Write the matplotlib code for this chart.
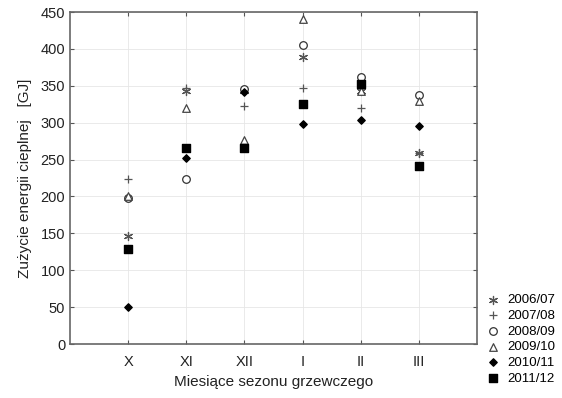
import matplotlib
matplotlib.use('Agg')
import matplotlib.pyplot as plt

plt.rcParams['font.family'] = ['Liberation Sans', 'DejaVu Sans']

months = ['X', 'XI', 'XII', 'I', 'II', 'III']
seasons = ['2006/07', '2007/08', '2008/09', '2009/10', '2010/11', '2011/12']

s0607 = [146, 343, 343, 389, 343, 259]
s0708 = [224, 347, 322, 347, 320, 259]
s0809 = [198, 224, 346, 405, 362, 338]
s0910 = [200, 320, 276, 440, 343, 330]
s1011 = [50, 252, 341, 298, 303, 295]
s1112 = [129, 265, 265, 325, 353, 241]

series = [s0607, s0708, s0809, s0910, s1011, s1112]
styles = [
    dict(marker=(6, 2, 0), s=34, color='#555555', linewidths=0.9),
    dict(marker='+', s=34, color='#555555', linewidths=0.9),
    dict(marker='o', s=30, facecolors='white', edgecolors='#333333', linewidths=0.9),
    dict(marker='^', s=30, facecolors='white', edgecolors='#444444', linewidths=0.9),
    dict(marker='D', s=14, color='black'),
    dict(marker='s', s=30, color='black'),
]

fig = plt.figure(figsize=(5.62, 3.98), dpi=100)
ax = fig.add_axes([70 / 562, 1 - 344 / 398, 407 / 562, 332 / 398])

x = list(range(1, len(months) + 1))
for vals, lab, st in zip(series, seasons, styles):
    ax.scatter(x, vals, label=lab, zorder=3, **st)

ax.set_xlim(0, 7)
ax.set_ylim(0, 450)
ax.set_xticks(x)
ax.set_xticklabels(months)
ax.set_yticks(range(0, 451, 50))
ax.grid(True, color='#e6e6e6', linewidth=0.6)
ax.tick_params(direction='in', length=3, top=True, right=True,
               labeltop=False, labelright=False, labelsize=10.5,
               color='#555555', labelcolor='#222222')
ax.tick_params(axis='x', pad=8)
for sp in ax.spines.values():
    sp.set_color('#666666')
    sp.set_linewidth(1.2)

ax.set_xlabel('Miesiące sezonu grzewczego', fontsize=11, labelpad=4, color='#222222')
ax.set_ylabel('Zużycie energii cieplnej   [GJ]', fontsize=11, labelpad=6, color='#222222')

ax.legend(loc='lower left', bbox_to_anchor=(1.0, -0.15), frameon=False,
          fontsize=9.5, handletextpad=0.6, labelspacing=0.26, borderaxespad=0.3,
          handlelength=1.0)

fig.savefig('out.png', dpi=100)
